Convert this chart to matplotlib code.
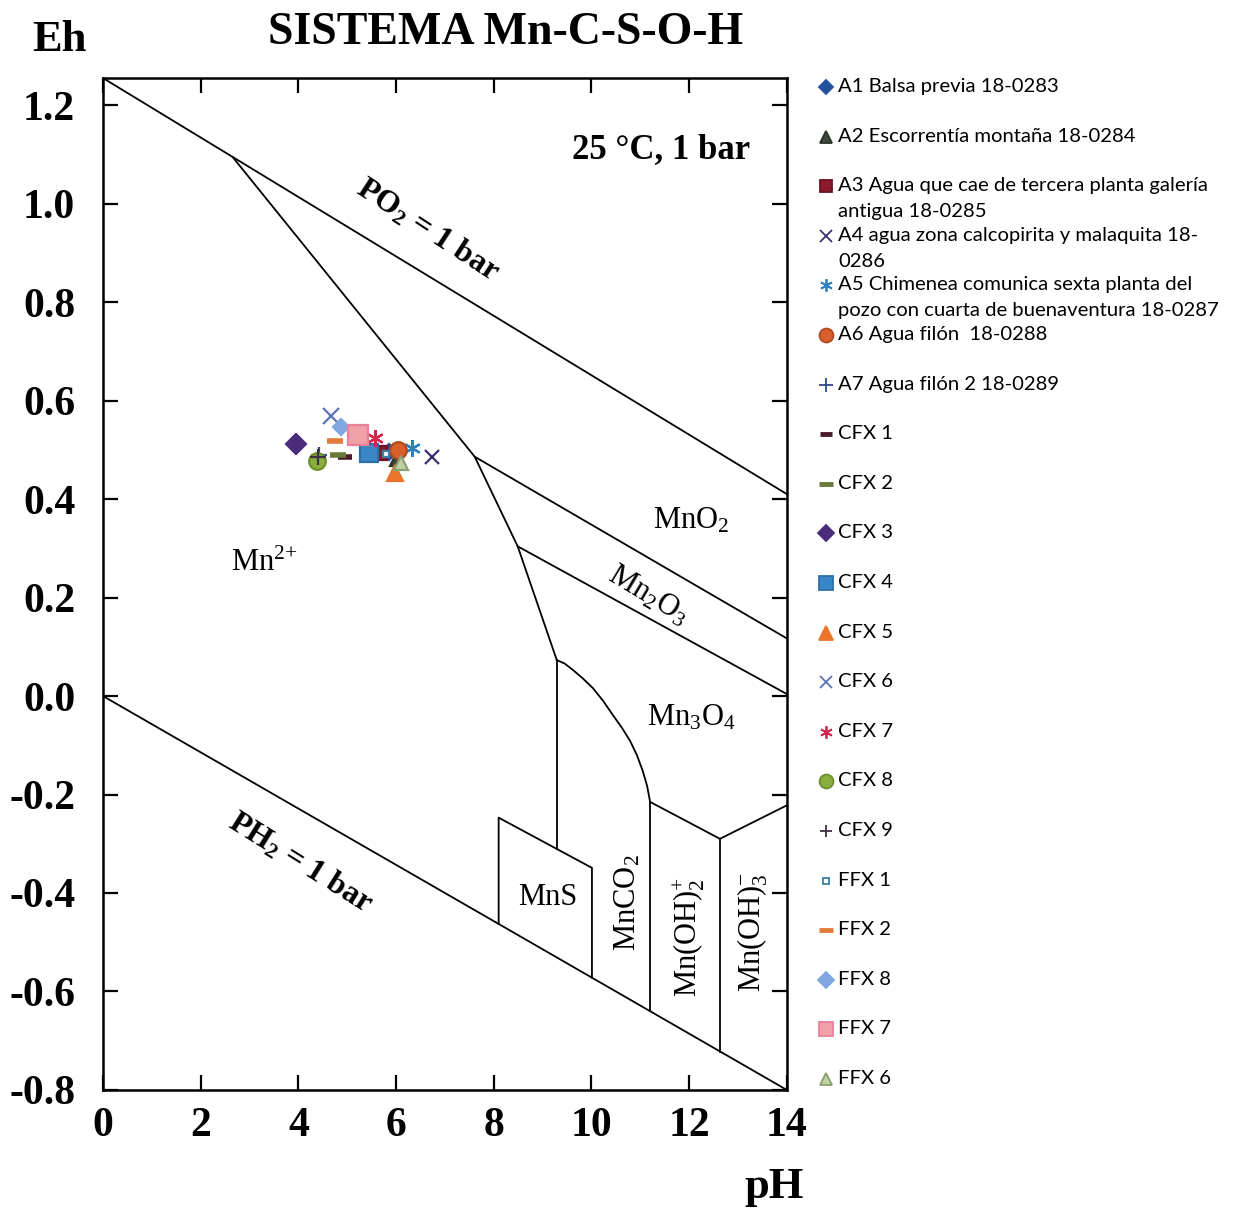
import numpy as np
import matplotlib
matplotlib.use("Agg")
import matplotlib.pyplot as plt
from matplotlib.lines import Line2D

# Stability field boundaries (pH, Eh)
o2_line = ([0, 14], [1.255, 0.41])
h2_line = ([0, 14], [0.0, -0.80])
mn2_ox_edge = ([2.66, 7.61, 8.49, 9.29], [1.094, 0.486, 0.304, 0.073])
mno2_mn2o3 = ([7.61, 14], [0.486, 0.117])
mn2o3_mn3o4 = ([8.49, 14], [0.304, 0.004])
mn2_mnco3 = ([9.29, 9.29], [0.073, -0.311])
mn3o4_curve_ph = [9.29, 9.45, 9.62, 9.82, 10.03, 10.24, 10.44, 10.62, 10.79, 10.93, 11.05, 11.14, 11.20]
mn3o4_curve_eh = [0.073, 0.066, 0.053, 0.036, 0.016, -0.010, -0.039, -0.064, -0.091, -0.120, -0.152, -0.183, -0.215]
mnco3_right = ([11.20, 11.20], [-0.215, -0.640])
oh2_top = ([11.20, 12.63, 14], [-0.215, -0.290, -0.222])
oh2_right = ([12.63, 12.63], [-0.290, -0.722])
mns_box_ph = [8.10, 8.10, 10.01, 10.01]
mns_box_eh = [-0.463, -0.247, -0.349, -0.572]

# Water samples: label, pH, Eh
labels = [
    "A1 Balsa previa 18-0283",
    "A2 Escorrentía montaña 18-0284",
    "A3 Agua que cae de tercera planta galería\nantigua 18-0285",
    "A4 agua zona calcopirita y malaquita 18-\n0286",
    "A5 Chimenea comunica sexta planta del\npozo con cuarta de buenaventura 18-0287",
    "A6 Agua filón  18-0288",
    "A7 Agua filón 2 18-0289",
    "CFX 1", "CFX 2", "CFX 3", "CFX 4", "CFX 5", "CFX 6", "CFX 7",
    "CFX 8", "CFX 9", "FFX 1", "FFX 2", "FFX 8", "FFX 7", "FFX 6",
]
ph = [5.85, 6.00, 5.67, 6.73, 6.32, 6.04, 4.42,
      4.95, 4.82, 3.95, 5.45, 5.98, 4.67, 5.57,
      4.38, 4.40, 5.80, 4.75, 4.87, 5.22, 6.10]
eh = [0.495, 0.480, 0.494, 0.486, 0.503, 0.500, 0.490,
      0.485, 0.490, 0.511, 0.494, 0.452, 0.569, 0.523,
      0.478, 0.486, 0.492, 0.517, 0.547, 0.531, 0.474]

ast = (6, 2, 0)  # six-spoke asterisk
# marker, face colour, edge colour, size on plot, size in key
styles = [
    ("D", "#23519c", "#23519c", 8, 7),
    ("^", "#3d4a3c", "#2a332a", 9, 8),
    ("s", "#8a1a2c", "#6e1222", 10, 9),
    ("x", "#3c2f6e", "#3c2f6e", 10, 9),
    (ast, "#4aa4e0", "#2f7fc0", 12, 9),
    ("o", "#d8602a", "#b04a1e", 12, 10),
    ("+", "#2e4a8a", "#2e4a8a", 12, 10),
    ("_", "#4a1a2a", "#4a1a2a", 10, 8),
    ("_", "#6b7a3a", "#3d4428", 12, 10),
    ("D", "#4b2c7a", "#4b2c7a", 10, 8),
    ("s", "#3a87c8", "#2e6fa6", 13, 10),
    ("^", "#e8752a", "#e8752a", 12, 10),
    ("x", "#5a72b8", "#5a72b8", 12, 9),
    (ast, "#d0284a", "#d0284a", 12, 9),
    ("o", "#8aae3e", "#6f8f2e", 12, 10),
    ("+", "#3b3040", "#3b3040", 12, 9),
    ("s", "#ffffff", "#3b7fa8", 5, 5),
    ("_", "#e27b3c", "#e27b3c", 12, 10),
    ("D", "#7fa8e0", "#7fa8e0", 8, 8),
    ("s", "#f2a0a8", "#e8809a", 14, 10),
    ("^", "#c0d2a4", "#8aa070", 10, 9),
]

serif = "Liberation Serif"
plt.rcParams["mathtext.fontset"] = "custom"
plt.rcParams["mathtext.rm"] = serif
plt.rcParams["mathtext.it"] = serif + ":italic"
plt.rcParams["mathtext.bf"] = serif + ":bold"

fig = plt.figure(figsize=(12.48, 12.12), dpi=100)
ax = fig.add_axes([0.0825, 0.1007, 0.548, 0.8349])

lk = dict(color="black", lw=1.3)
ax.plot(*o2_line, **lk)
ax.plot(*h2_line, **lk)
ax.plot(*mn2_ox_edge, **lk)
ax.plot(*mno2_mn2o3, **lk)
ax.plot(*mn2o3_mn3o4, **lk)
ax.plot(*mn2_mnco3, **lk)
ax.plot(mn3o4_curve_ph, mn3o4_curve_eh, **lk)
ax.plot(*mnco3_right, **lk)
ax.plot(*oh2_top, **lk)
ax.plot(*oh2_right, **lk)
ax.plot(mns_box_ph, mns_box_eh, **lk)

for (m, fc, ec, s, _), x, y in zip(styles, ph, eh):
    mew = 4 if m == "_" else 1.6
    ax.plot(x, y, marker=m, ms=s, mfc=fc, mec=ec if m != "_" else fc,
            mew=mew, ls="none")

yt = np.round(np.arange(-0.8, 1.21, 0.2), 1)
ax.set_xlim(0, 14)
ax.set_ylim(-0.8, 1.255)
ax.set_xticks(np.arange(0, 15, 2))
ax.set_yticks(yt)
ax.set_yticklabels([f"{abs(v):.1f}" if v == 0 else f"{v:.1f}" for v in yt])
ax.tick_params(direction="in", length=11, width=1.6, top=True, right=True,
               labelsize=30)
ax.tick_params(axis="y", pad=20)
ax.tick_params(axis="x", pad=12)
for lab in ax.get_xticklabels() + ax.get_yticklabels():
    lab.set_family(serif)
    lab.set_fontweight("bold")
for sp in ax.spines.values():
    sp.set_linewidth(1.8)

# field names
fs = 22
ax.text(3.3, 0.27, r"Mn$^{2{+}}$", family=serif, fontsize=fs, ha="center", va="center")
ax.text(12.05, 0.355, r"MnO$_2$", family=serif, fontsize=fs, ha="center", va="center")
ax.text(11.15, 0.205, r"Mn$_2$O$_3$", family=serif, fontsize=fs, ha="center", va="center",
        rotation=-31)
ax.text(12.05, -0.045, r"Mn$_3$O$_4$", family=serif, fontsize=fs, ha="center", va="center")
ax.text(9.1, -0.41, "MnS", family=serif, fontsize=fs, ha="center", va="center")
ax.text(10.75, -0.42, r"MnCO$_2$", family=serif, fontsize=fs, ha="center", va="center",
        rotation=90)
ax.text(12.0, -0.49, r"Mn(OH)$_2^{+}$", family=serif, fontsize=fs, ha="center", va="center",
        rotation=90)
ax.text(13.3, -0.48, r"Mn(OH)$_3^{-}$", family=serif, fontsize=fs, ha="center", va="center",
        rotation=90)

ax.text(6.65, 0.945, r"PO$_\mathbf{2}$ = 1 bar", family=serif, fontsize=23, fontweight="bold",
        ha="center", va="center", rotation=-33)
ax.text(4.05, -0.34, r"PH$_\mathbf{2}$ = 1 bar", family=serif, fontsize=23, fontweight="bold",
        ha="center", va="center", rotation=-32)
ax.text(13.25, 1.11, "25 °C, 1 bar", family=serif, fontsize=25, fontweight="bold",
        ha="right", va="center")

fig.text(0.405, 0.973, "SISTEMA Mn-C-S-O-H", family=serif, fontsize=33,
         fontweight="bold", ha="center", va="center")
fig.text(0.048, 0.967, "Eh", family=serif, fontsize=32, fontweight="bold",
         ha="center", va="center")
fig.text(0.62, 0.021, "pH", family=serif, fontsize=32, fontweight="bold",
         ha="center", va="center")

# key on the right, one row per sample
key_font = ["Lato", "DejaVu Sans"]
row_top = 1 - 87 / 1212
row_step = 49.6 / 1212
mark_x = 826 / 1248
text_x = 838 / 1248
for i, (lab, (m, fc, ec, _, ks)) in enumerate(zip(labels, styles)):
    y = row_top - i * row_step
    mew = 3.5 if m == "_" else 1.3
    fig.add_artist(Line2D([mark_x], [y], marker=m, ms=ks, mfc=fc,
                          mec=ec if m != "_" else fc, mew=mew, ls="none",
                          transform=fig.transFigure))
    fig.text(text_x, y + 0.0075, lab, family=key_font, fontsize=14.6,
             ha="left", va="top", linespacing=1.65)

fig.savefig("out.png", dpi=100)
